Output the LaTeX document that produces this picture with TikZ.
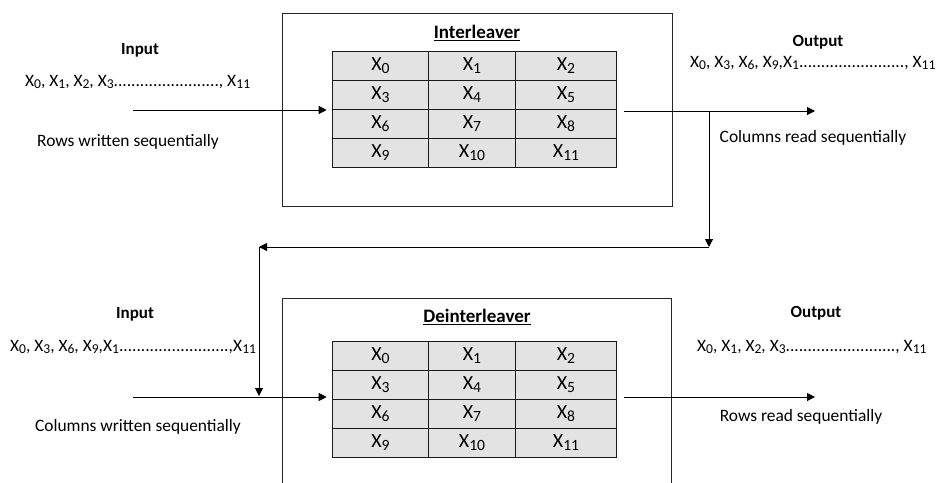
\documentclass[tikz,border=0pt]{standalone}
\usepackage{fontspec}
\setmainfont{Carlito}
\usetikzlibrary{matrix,arrows.meta}
% X with a fairly large, lowered index
\newcommand{\Xsub}[1]{X\raisebox{-0.32ex}{\scalebox{0.78}{#1}}}
\begin{document}
\begin{tikzpicture}[x=1pt,y=-1pt,
  lbl/.style={font=\fontsize{17.4}{20}\selectfont, inner sep=0pt},
  hdr/.style={font=\bfseries\fontsize{17}{20}\selectfont, inner sep=0pt},
  ttl/.style={font=\bfseries\fontsize{19}{22}\selectfont, inner sep=0pt},
  frame/.style={draw=black!85, line width=0.9pt, inner sep=0pt},
  grid/.style={matrix of nodes, inner sep=0pt,
    nodes={draw=black!90, line width=1.2pt, fill=black!11, minimum height=29pt,
      inner sep=0pt, font=\fontsize{20}{22}\selectfont, anchor=center},
    row sep=-1.2pt, column sep=-1.2pt,
    column 1/.style={nodes={minimum width=96pt}},
    column 2/.style={nodes={minimum width=87pt}},
    column 3/.style={nodes={minimum width=101pt}}},
  flow/.style={line width=1pt, -{Triangle[length=8pt,width=8pt]}},
]
\useasboundingbox (0,0) rectangle (941,482);
\clip (0,0) rectangle (941,482);

% interleaver block
\node[frame, minimum width=390pt, minimum height=193pt] (box1) at (477,109.5) {};
\node[ttl] (t1) at (477,33) {\underline{Interleaver}};
\matrix[grid] (T1) at (474.5,109.5) {
  \Xsub{0} & \Xsub{1} & \Xsub{2} \\
  \Xsub{3} & \Xsub{4} & \Xsub{5} \\
  \Xsub{6} & \Xsub{7} & \Xsub{8} \\
  \Xsub{9} & \Xsub{10} & \Xsub{11} \\
};

% deinterleaver block (runs past the lower edge)
\node[frame, minimum width=389pt, minimum height=212pt] (box2) at (476.5,404) {};
\node[ttl] (t2) at (477,317) {\underline{Deinterleaver}};
\matrix[grid] (T2) at (474.5,399.5) {
  \Xsub{0} & \Xsub{1} & \Xsub{2} \\
  \Xsub{3} & \Xsub{4} & \Xsub{5} \\
  \Xsub{6} & \Xsub{7} & \Xsub{8} \\
  \Xsub{9} & \Xsub{10} & \Xsub{11} \\
};

% labels, upper stage
\node[hdr] (in1) at (140,50) {Input};
\node[lbl, anchor=west] (seqin1) at (25,82) {\Xsub{0}, \Xsub{1}, \Xsub{2}, \Xsub{3}........................, \Xsub{11}};
\node[lbl] (rw) at (128,142) {Rows written sequentially};
\node[hdr] (out1) at (818,42) {Output};
\node[lbl, anchor=west] (seqout1) at (690,63) {\Xsub{0}, \Xsub{3}, \Xsub{6}, \Xsub{9},\Xsub{1}........................, \Xsub{11}};
\node[lbl] (cr) at (813,138) {Columns read sequentially};

% labels, lower stage
\node[hdr] (in2) at (135,314) {Input};
\node[lbl, anchor=west] (seqin2) at (10,347) {\Xsub{0}, \Xsub{3}, \Xsub{6}, \Xsub{9},\Xsub{1}.........................,\Xsub{11}};
\node[lbl] (cw) at (138,427) {Columns written sequentially};
\node[hdr] (out2) at (816,313) {Output};
\node[lbl, anchor=west] (seqout2) at (697,347) {\Xsub{0}, \Xsub{1}, \Xsub{2}, \Xsub{3}........................., \Xsub{11}};
\node[lbl] (rr) at (801,417) {Rows read sequentially};

% data flow
\coordinate (inA) at (133,110);
\coordinate (outA) at (815,111);
\coordinate (tap) at (709,111);
\coordinate (c1) at (709,247);
\coordinate (c2) at (259,247);
\coordinate (c3) at (259,396);
\coordinate (inB) at (133,397);
\coordinate (outB) at (815,397);

\draw[flow] (inA) -- ([xshift=-5pt]T1.west |- inA);
\draw[flow] ([xshift=7pt]T1.east |- outA) -- (outA);
\draw[flow] (tap) -- (c1);
\draw[flow] (c1) -- (c2);
\draw[flow] (c2) -- (c3);
\draw[flow] (inB) -- ([xshift=-5pt]T2.west |- inB);
\draw[flow] ([xshift=7pt]T2.east |- outB) -- (outB);
\end{tikzpicture}
\end{document}
